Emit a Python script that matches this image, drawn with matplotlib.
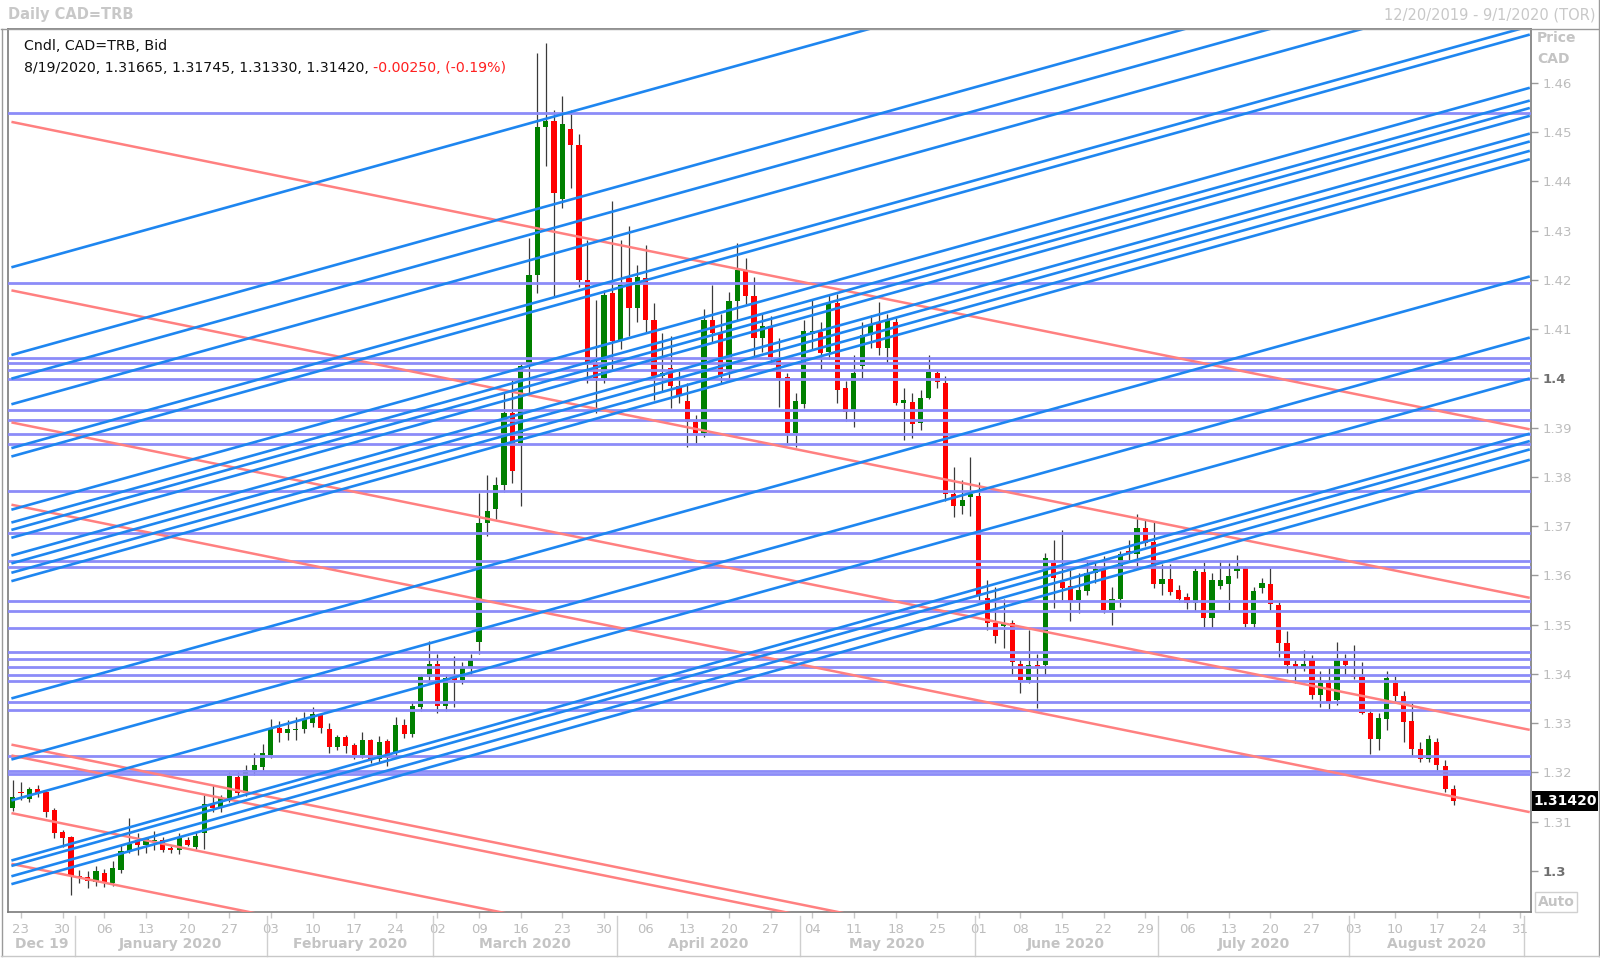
import matplotlib
matplotlib.use('Agg')
import matplotlib.pyplot as plt
import numpy as np
import pandas as pd
from matplotlib.patches import Rectangle
from matplotlib.lines import Line2D

# ---------------- data ----------------
dates = pd.bdate_range('2019-12-20', '2020-08-19')

opens = [1.3127,1.3160,1.3146,1.3166,1.3161,1.3124,1.3080,1.3069,1.2990,1.2988,
         1.2978,1.2995,1.2975,1.3002,1.3041,1.3063,1.3053,1.3060,1.3063,1.3046,
         1.3043,1.3063,1.3048,1.3077,1.3136,1.3127,1.3148,1.3191,1.3158,1.3205,
         1.3212,1.3235,1.3290,1.3280,1.3286,1.3288,1.3301,1.3319,1.3288,1.3252,
         1.3271,1.3256,1.3235,1.3265,1.3227,1.3264,1.3239,1.3296,1.3279,1.3333,
         1.3394,1.3420,1.3335,1.3392,1.3388,1.3412,1.3465,1.3706,1.3735,1.3784,
         1.3930,1.3868,1.4031,1.4210,1.4511,1.4523,1.4364,1.4506,1.4474,1.4200,
         1.4031,1.4000,1.4173,1.4078,1.4203,1.4142,1.4203,1.4118,1.4004,1.4021,
         1.3984,1.3953,1.3912,1.3889,1.4118,1.4091,1.4017,1.4156,1.4217,1.4167,
         1.4081,1.4106,1.4037,1.4002,1.3889,1.3948,1.4090,1.4095,1.4054,1.4152,
         1.3980,1.3936,1.4024,1.4088,1.4112,1.4061,1.4114,1.3950,1.3951,1.3909,
         1.3961,1.4010,1.3990,1.3765,1.3741,1.3760,1.3762,1.3555,1.3504,1.3498,
         1.3503,1.3421,1.3388,1.3418,1.3418,1.3626,1.3587,1.3578,1.3551,1.3568,
         1.3605,1.3612,1.3530,1.3553,1.3650,1.3643,1.3697,1.3668,1.3583,1.3592,
         1.3570,1.3556,1.3543,1.3607,1.3513,1.3579,1.3583,1.3609,1.3614,1.3501,
         1.3575,1.3582,1.3540,1.3463,1.3420,1.3414,1.3428,1.3357,1.3381,1.3347,
         1.3428,1.3396,1.3394,1.3321,1.3268,1.3309,1.3381,1.3355,1.3305,1.3247,
         1.3227,1.3262,1.3213,1.31665]
highs = [1.3185,1.3181,1.3171,1.3175,1.3163,1.3127,1.3083,1.3072,1.3002,1.3000,
         1.3010,1.3005,1.3020,1.3053,1.3108,1.3078,1.3070,1.3082,1.3069,1.3050,
         1.3078,1.3070,1.3080,1.3154,1.3175,1.3154,1.3200,1.3200,1.3216,1.3240,
         1.3258,1.3308,1.3304,1.3306,1.3312,1.3323,1.3333,1.3321,1.3301,1.3276,
         1.3276,1.3260,1.3283,1.3268,1.3275,1.3268,1.3313,1.3309,1.3345,1.3400,
         1.3467,1.3440,1.3400,1.3436,1.3425,1.3440,1.3767,1.3804,1.3800,1.3970,
         1.3997,1.4030,1.4285,1.4661,1.4681,1.4545,1.4572,1.4545,1.4496,1.4281,
         1.4159,1.4180,1.4360,1.4281,1.4310,1.4230,1.4270,1.4152,1.4092,1.4085,
         1.4015,1.3990,1.3925,1.4141,1.4189,1.4130,1.4175,1.4274,1.4244,1.4206,
         1.4130,1.4127,1.4082,1.4010,1.3970,1.4118,1.4159,1.4115,1.4170,1.4172,
         1.3995,1.4048,1.4115,1.4128,1.4155,1.4130,1.4122,1.3980,1.3970,1.3976,
         1.4047,1.4015,1.4005,1.3819,1.3793,1.3841,1.3790,1.3591,1.3577,1.3552,
         1.3509,1.3430,1.3489,1.3441,1.3645,1.3672,1.3692,1.3611,1.3604,1.3632,
         1.3627,1.3640,1.3577,1.3650,1.3672,1.3724,1.3713,1.3710,1.3623,1.3623,
         1.3580,1.3565,1.3614,1.3628,1.3604,1.3631,1.3626,1.3642,1.3620,1.3576,
         1.3594,1.3614,1.3545,1.3488,1.3428,1.3448,1.3438,1.3405,1.3415,1.3465,
         1.3440,1.3458,1.3424,1.3328,1.3320,1.3406,1.3396,1.3365,1.3340,1.3261,
         1.3276,1.3270,1.3225,1.31745]
lows = [1.3122,1.3144,1.3141,1.3151,1.3110,1.3066,1.3049,1.2951,1.2975,1.2965,
        1.2970,1.2968,1.2970,1.2995,1.3037,1.3032,1.3037,1.3043,1.3038,1.3037,
        1.3035,1.3050,1.3045,1.3045,1.3120,1.3120,1.3140,1.3150,1.3152,1.3195,
        1.3205,1.3230,1.3262,1.3266,1.3266,1.3280,1.3292,1.3280,1.3239,1.3245,
        1.3239,1.3228,1.3230,1.3220,1.3222,1.3214,1.3232,1.3270,1.3272,1.3325,
        1.3380,1.3320,1.3325,1.3333,1.3380,1.3398,1.3440,1.3680,1.3715,1.3770,
        1.3788,1.3740,1.3970,1.4173,1.4430,1.4166,1.4345,1.4387,1.4186,1.3990,
        1.3930,1.3990,1.4018,1.4060,1.4085,1.4114,1.4095,1.3956,1.3975,1.3940,
        1.3950,1.3861,1.3868,1.3880,1.4071,1.3990,1.4000,1.4118,1.4150,1.4044,
        1.4054,1.4030,1.3942,1.3869,1.3861,1.3940,1.4060,1.4018,1.4040,1.3949,
        1.3913,1.3902,1.4000,1.4061,1.4048,1.4032,1.3946,1.3875,1.3878,1.3896,
        1.3958,1.3980,1.3750,1.3718,1.3724,1.3720,1.3550,1.3489,1.3463,1.3453,
        1.3397,1.3361,1.3381,1.3330,1.3397,1.3533,1.3550,1.3508,1.3524,1.3560,
        1.3585,1.3523,1.3499,1.3535,1.3630,1.3620,1.3660,1.3575,1.3560,1.3561,
        1.3545,1.3531,1.3527,1.3496,1.3494,1.3572,1.3530,1.3595,1.3495,1.3494,
        1.3564,1.3530,1.3434,1.3402,1.3381,1.3405,1.3350,1.3333,1.3328,1.3337,
        1.3397,1.3390,1.3319,1.3237,1.3245,1.3286,1.3341,1.3262,1.3233,1.3221,
        1.3221,1.3206,1.3160,1.31330]
closes = [1.3151,1.3158,1.3166,1.3158,1.3120,1.3078,1.3068,1.2990,1.2988,1.2980,
          1.3000,1.2976,1.3006,1.3041,1.3055,1.3053,1.3064,1.3063,1.3043,1.3043,
          1.3066,1.3053,1.3072,1.3136,1.3127,1.3148,1.3193,1.3158,1.3205,1.3215,
          1.3239,1.3290,1.3280,1.3288,1.3288,1.3308,1.3319,1.3290,1.3251,1.3271,
          1.3253,1.3235,1.3265,1.3227,1.3262,1.3229,1.3296,1.3279,1.3335,1.3394,
          1.3420,1.3335,1.3392,1.3388,1.3412,1.3428,1.3706,1.3730,1.3784,1.3930,
          1.3811,1.4024,1.4210,1.4511,1.4523,1.4376,1.4516,1.4474,1.4199,1.4031,
          1.4000,1.4169,1.4075,1.4190,1.4142,1.4206,1.4118,1.4004,1.4011,1.3984,
          1.3964,1.3912,1.3889,1.4118,1.4091,1.4006,1.4156,1.4220,1.4167,1.4081,
          1.4106,1.4044,1.4000,1.3889,1.3953,1.4097,1.4097,1.4051,1.4152,1.3976,
          1.3932,1.4011,1.4088,1.4108,1.4061,1.4119,1.3950,1.3955,1.3908,1.3961,
          1.4013,1.3993,1.3765,1.3741,1.3754,1.3766,1.3559,1.3504,1.3477,1.3503,
          1.3425,1.3388,1.3418,1.3415,1.3635,1.3594,1.3575,1.3545,1.3570,1.3605,
          1.3612,1.3530,1.3553,1.3643,1.3643,1.3697,1.3665,1.3583,1.3592,1.3567,
          1.3553,1.3543,1.3609,1.3513,1.3591,1.3591,1.3599,1.3614,1.3501,1.3568,
          1.3584,1.3542,1.3462,1.3418,1.3414,1.3420,1.3357,1.3381,1.3341,1.3428,
          1.3418,1.3393,1.3321,1.3268,1.3310,1.3392,1.3355,1.3303,1.3247,1.3227,
          1.3268,1.3215,1.3167,1.31420]

# horizontal support / resistance levels
h_levels = [1.4539, 1.4193, 1.4041, 1.4031, 1.4016, 1.3998, 1.3936, 1.3916,
            1.3887, 1.3867, 1.3772, 1.3686, 1.3630, 1.3617, 1.3548, 1.3527,
            1.3493, 1.3444, 1.3431, 1.3415, 1.3398, 1.3385, 1.3344, 1.3327,
            1.3233, 1.3196, 1.3202]

# rising trend lines: price on 2019-12-20 and on 2020-09-01
blue_start = [1.4226, 1.4048, 1.4000, 1.3948, 1.3859, 1.3842,
              1.3734, 1.3708, 1.3693, 1.3677,
              1.3641, 1.3625, 1.3606, 1.3589,
              1.3351, 1.3227, 1.3144,
              1.3022, 1.3011, 1.2990, 1.2974]
blue_end = [1.5081, 1.4903, 1.4855, 1.4803, 1.4714, 1.4697,
            1.4589, 1.4563, 1.4548, 1.4532,
            1.4496, 1.4480, 1.4461, 1.4444,
            1.4206, 1.4082, 1.3999,
            1.3887, 1.3872, 1.3855, 1.3834]

# falling trend lines: price on 2019-12-20 and on 2020-09-01
red_start = [1.4520, 1.4178, 1.3910, 1.3743, 1.3256, 1.3234, 1.3117, 1.3014]
red_end = [1.3897, 1.3555, 1.3287, 1.3120, 1.2633, 1.2611, 1.2494, 1.2391]

y_ticks = [1.30, 1.31, 1.32, 1.33, 1.34, 1.35, 1.36, 1.37, 1.38, 1.39,
           1.40, 1.41, 1.42, 1.43, 1.44, 1.45, 1.46]
y_tick_labels = ['1.3', '1.31', '1.32', '1.33', '1.34', '1.35', '1.36', '1.37',
                 '1.38', '1.39', '1.4', '1.41', '1.42', '1.43', '1.44', '1.45', '1.46']
month_labels = ['Dec 19', 'January 2020', 'February 2020', 'March 2020',
                'April 2020', 'May 2020', 'June 2020', 'July 2020', 'August 2020']

# ---------------- figure ----------------
W, H = 1600, 958
fig = plt.figure(figsize=(W / 100, H / 100), dpi=100)
fig.patch.set_facecolor('white')

L, R, T, B = 8, 1531, 29, 912
ax = fig.add_axes([L / W, 1 - B / H, (R - L) / W, (B - T) / H])

axis_days = pd.bdate_range('2019-12-20', '2020-09-01')
pos = {d: k for k, d in enumerate(axis_days)}
xs = np.array([pos[d] for d in dates])
x_end = pos[pd.Timestamp('2020-09-01')]

ax.set_xlim(-0.56, 182.3)
ax.set_ylim(1.29168, 1.4709)

GREEN = '#008000'
RED = '#FF0000'
for x, o, h, l, c in zip(xs, opens, highs, lows, closes):
    ax.plot([x, x], [l, h], color='#3a3a3a', lw=0.9, zorder=2, solid_capstyle='butt')
    col = GREEN if c >= o else RED
    lo, hi = min(o, c), max(o, c)
    if hi - lo < 0.00008:
        ax.plot([x - 0.3, x + 0.3], [c, c], color=col, lw=1.6, zorder=2.1)
    else:
        ax.add_patch(Rectangle((x - 0.31, lo), 0.62, hi - lo, facecolor=col,
                               edgecolor='none', zorder=2.1))

for p in h_levels:
    ax.axhline(p, color='#8C8CF8', lw=2.0, zorder=3)
for s, e in zip(red_start, red_end):
    ax.plot([0, x_end], [s, e], color='#FF8080', lw=1.8, zorder=3.5)
for s, e in zip(blue_start, blue_end):
    ax.plot([0, x_end], [s, e], color='#1E86F0', lw=1.9, zorder=4)

# axes styling
for sp in ax.spines.values():
    sp.set_color('#7a7a7a')
    sp.set_linewidth(1.2)
ax.yaxis.tick_right()
ax.set_yticks(y_ticks)
ax.set_yticklabels(y_tick_labels)
ax.tick_params(axis='y', direction='out', length=5, width=1, color='#9a9a9a',
               labelsize=9.5, labelcolor='#BDBDBD', pad=3)
for lab in ax.get_yticklabels():
    if lab.get_text() in ('1.4', '1.3'):
        lab.set_fontweight('bold')
        lab.set_color('#707070')

mondays = [d for d in axis_days if d.weekday() == 0]
ax.set_xticks([pos[d] for d in mondays])
ax.set_xticklabels(['%02d' % d.day for d in mondays])
ax.tick_params(axis='x', direction='out', length=4, width=1, color='#c8c8c8',
               labelsize=9.5, labelcolor='#BDBDBD', pad=4)

# month separators and labels
month_starts = []
for m in range(1, 10):
    d = pd.Timestamp(2020, m, 1)
    while d.weekday() >= 5:
        d += pd.Timedelta(days=1)
    month_starts.append(pos[d] - 0.5)
bounds = [-0.56] + month_starts
trans = ax.get_xaxis_transform()
for b in month_starts:
    ax.add_line(Line2D([b, b], [-0.005, -0.05], transform=trans, color='#cfcfcf',
                       lw=1, clip_on=False))
for k, lab in enumerate(month_labels):
    a, b = bounds[k], bounds[k + 1]
    ax.text((a + b) / 2, -0.036, lab, transform=trans, ha='center', va='center',
            fontsize=10, fontweight='bold', color='#C4C4C4', clip_on=False)


def fx(x):
    return x / W


def fy(y):
    return 1 - y / H


# frame around whole chart
fig.add_artist(Line2D([fx(1), fx(1599)], [fy(29), fy(29)], color='#9a9a9a', lw=1))
fig.add_artist(Line2D([fx(1.5), fx(1.5)], [fy(29), fy(956)], color='#9a9a9a', lw=1))
fig.add_artist(Line2D([fx(1598.5), fx(1598.5)], [fy(0), fy(956)], color='#9a9a9a', lw=1))
fig.add_artist(Line2D([fx(1), fx(1599)], [fy(956), fy(956)], color='#c8c8c8', lw=1))

fig.text(fx(8), fy(15), 'Daily CAD=TRB', fontsize=10.5, fontweight='bold',
         color='#C8C8C8', va='center', ha='left')
fig.text(fx(1596), fy(15), '12/20/2019 - 9/1/2020 (TOR)', fontsize=10.5,
         color='#C8C8C8', va='center', ha='right')
fig.text(fx(1537), fy(38), 'Price', fontsize=10, fontweight='bold',
         color='#C4C4C4', va='center', ha='left')
fig.text(fx(1537), fy(59), 'CAD', fontsize=10, fontweight='bold',
         color='#C4C4C4', va='center', ha='left')

# legend text
fig.text(fx(24), fy(46), 'Cndl, CAD=TRB, Bid', fontsize=10.2, color='#111111',
         va='center', ha='left')
t1 = fig.text(fx(24), fy(68), '8/19/2020, 1.31665, 1.31745, 1.31330, 1.31420, ',
              fontsize=10.2, color='#111111', va='center', ha='left')
fig.canvas.draw()
bb = t1.get_window_extent()
fig.text(bb.x1 / W, fy(68), '-0.00250, (-0.19%)', fontsize=10.2, color='#FF2020',
         va='center', ha='left')

# last price box
last = closes[-1]
yp = ax.transData.transform((0, last))[1]
fig.add_artist(Rectangle((fx(1532), (yp - 10) / H), (1598 - 1532) / W, 20 / H,
                         facecolor='black', edgecolor='none'))
fig.text(fx(1565), yp / H, '%.5f' % last, fontsize=10, fontweight='bold',
         color='white', ha='center', va='center')

# Auto button
fig.add_artist(Rectangle((fx(1535), fy(912)), 42 / W, 20 / H, facecolor='white',
                         edgecolor='#d0d0d0', lw=1))
fig.text(fx(1556), fy(902), 'Auto', fontsize=10, fontweight='bold', color='#C4C4C4',
         ha='center', va='center')

fig.savefig('out.png', dpi=100, facecolor='white')
